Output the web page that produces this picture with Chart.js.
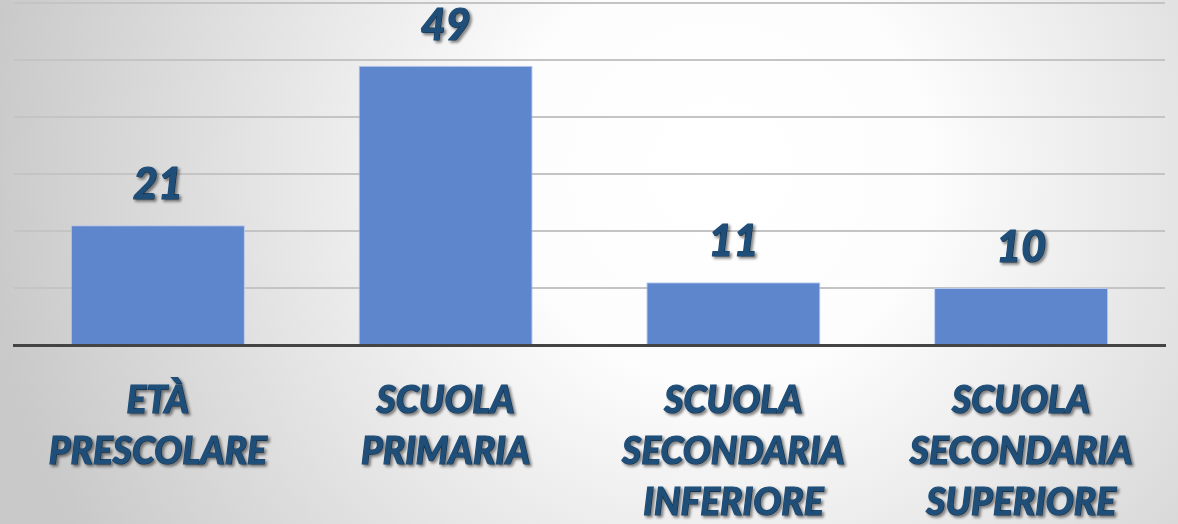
<!DOCTYPE html>
<html lang="it">
<head>
<meta charset="utf-8">
<script src="https://cdn.jsdelivr.net/npm/chart.js@4/dist/chart.umd.min.js"></script>
<style>
  html, body { margin: 0; padding: 0; background: #ffffff; }
  #wrap { width: 1178px; height: 524px; position: relative; }
</style>
</head>
<body>
<div id="wrap"><canvas id="chart" width="1178" height="524"></canvas></div>
<script>
// Fasce scolastiche e numero di casi per ciascuna
const categories = [
  ['ETÀ', 'PRESCOLARE'],
  ['SCUOLA', 'PRIMARIA'],
  ['SCUOLA', 'SECONDARIA', 'INFERIORE'],
  ['SCUOLA', 'SECONDARIA', 'SUPERIORE']
];
const values = [21, 49, 11, 10];
const yTicks = [0, 10, 20, 30, 40, 50, 60];

const TEXT_COLOR = '#1F4E79';
const FONT_FAMILY = 'Lato, "Open Sans", sans-serif';

// Category axis whose labels carry a soft drop shadow
class ShadowCategoryScale extends Chart.CategoryScale {
  drawLabels(area) {
    const ctx = this.ctx;
    ctx.save();
    ctx.shadowColor = 'rgba(0,0,0,0.45)';
    ctx.shadowOffsetX = 2;
    ctx.shadowOffsetY = 2;
    ctx.shadowBlur = 3;
    super.drawLabels(area);
    ctx.restore();
  }
}
ShadowCategoryScale.id = 'shadowCategory';
ShadowCategoryScale.defaults = Chart.CategoryScale.defaults;
Chart.register(ShadowCategoryScale);

// Radial light-grey backdrop behind the whole chart
const backdrop = {
  id: 'backdrop',
  beforeDraw(chart) {
    const { ctx, width, height } = chart;
    const g = ctx.createRadialGradient(720, 170, 0, 720, 170, 740);
    g.addColorStop(0, '#ffffff');
    g.addColorStop(0.28, '#fdfdfd');
    g.addColorStop(1, '#c9c9c9');
    ctx.save();
    ctx.fillStyle = g;
    ctx.fillRect(0, 0, width, height);
    ctx.restore();
  }
};

// Value labels above each bar
const valueLabels = {
  id: 'valueLabels',
  afterDatasetsDraw(chart) {
    const { ctx } = chart;
    const meta = chart.getDatasetMeta(0);
    const data = chart.data.datasets[0].data;
    ctx.save();
    ctx.font = 'italic 900 43px ' + FONT_FAMILY;
    ctx.fillStyle = TEXT_COLOR;
    ctx.strokeStyle = TEXT_COLOR;
    ctx.lineWidth = 1.2;
    ctx.lineJoin = 'round';
    ctx.textAlign = 'center';
    ctx.textBaseline = 'alphabetic';
    ctx.shadowColor = 'rgba(0,0,0,0.45)';
    ctx.shadowOffsetX = 2;
    ctx.shadowOffsetY = 2;
    ctx.shadowBlur = 3;
    meta.data.forEach((bar, i) => {
      ctx.strokeText(String(data[i]), bar.x, bar.y - 26);
      ctx.fillText(String(data[i]), bar.x, bar.y - 26);
    });
    ctx.restore();
  }
};

new Chart(document.getElementById('chart'), {
  type: 'bar',
  data: {
    labels: categories,
    datasets: [{
      data: values,
      backgroundColor: '#5E86CD',
      borderColor: 'rgba(180,200,238,0.9)',
      borderWidth: 1,
      borderSkipped: 'bottom',
      categoryPercentage: 1,
      barPercentage: 0.605
    }]
  },
  options: {
    responsive: false,
    animation: false,
    layout: { padding: { left: 14, right: 13, top: 3, bottom: 0 } },
    plugins: {
      legend: { display: false },
      tooltip: { enabled: false }
    },
    scales: {
      x: {
        type: 'shadowCategory',
        grid: { display: false, drawTicks: false },
        border: { display: true, color: '#444444', width: 3 },
        afterFit(scale) { scale.height = 179; },
        ticks: {
          color: TEXT_COLOR,
          textStrokeColor: TEXT_COLOR,
          textStrokeWidth: 1.2,
          padding: 31,
          maxRotation: 0,
          autoSkip: false,
          font: { family: FONT_FAMILY, size: 37, weight: '900', style: 'italic', lineHeight: '51px' }
        }
      },
      y: {
        min: yTicks[0],
        max: yTicks[yTicks.length - 1],
        afterBuildTicks(scale) {
          scale.ticks = yTicks.map(v => ({ value: v }));
        },
        ticks: { display: false },
        border: { display: false },
        grid: { color: '#c4c4c4', lineWidth: 2, drawTicks: false }
      }
    }
  },
  plugins: [backdrop, valueLabels]
});
</script>
</body>
</html>
